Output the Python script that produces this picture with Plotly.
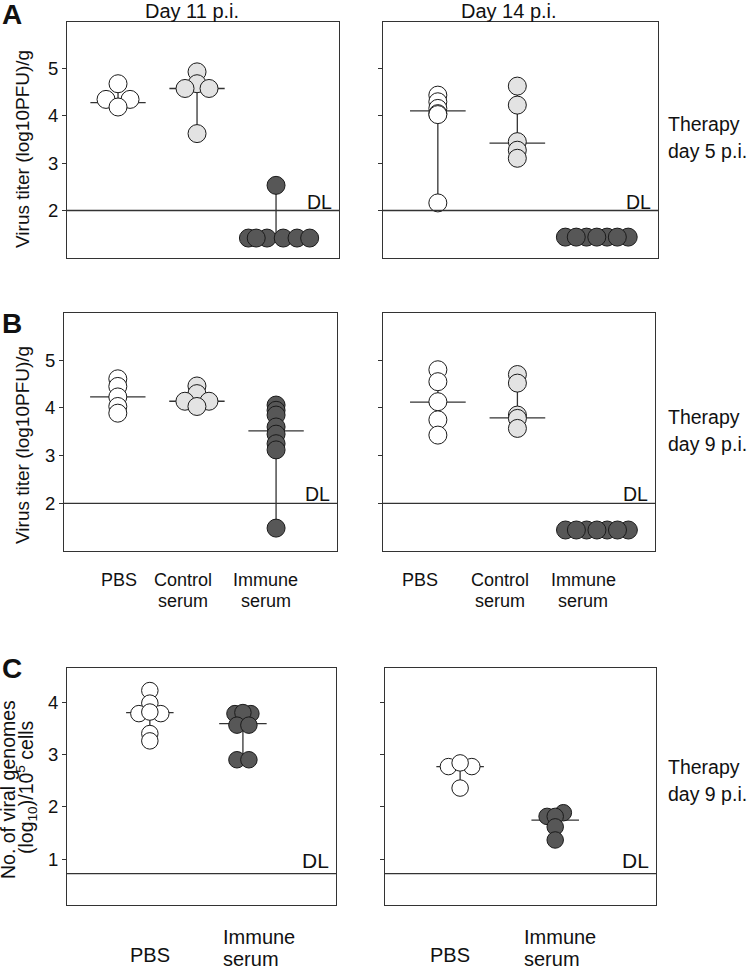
import plotly.graph_objects as go
import numpy as np

# ---------------- data ----------------
GROUPS_AB = ["PBS", "Control<br>serum", "Immune<br>serum"]
GROUPS_C = ["PBS", "Immune<br>serum"]
DL_TITER = 2.0
DL_GENOMES = 0.73

# Panel A, day 11 p.i. (therapy day 5)
A11_PBS = [4.67, 4.34, 4.34, 4.18]
A11_PBS_SLOT = [0, -1, 1, 0]
A11_CTRL = [4.92, 4.67, 4.57, 4.57, 3.62]
A11_CTRL_SLOT = [0, 0, -1, 1, 0]
A11_IMM = [2.53, 1.42, 1.42, 1.42, 1.42, 1.42, 1.42]
A11_IMM_SLOT = [0, -2.3, -0.75, -1.65, 0.6, 1.75, 2.8]
A11_MED = [4.27, 4.57, 1.42]

# Panel A, day 14 p.i.
A14_PBS = [4.43, 4.29, 4.15, 4.04, 4.02, 2.16]
A14_PBS_SLOT = [0, 0, 0, 0, 0, 0]
A14_CTRL = [4.62, 4.22, 3.45, 3.27, 3.10]
A14_CTRL_SLOT = [0, 0, 0, 0, 0]
A14_IMM = [1.44, 1.44, 1.44, 1.44, 1.44, 1.44, 1.44]
A14_IMM_SLOT = [-2.6, -0.85, 0.85, 2.6, -1.7, 0, 1.7]
A14_MED = [4.10, 3.42, 1.44]

# Panel B, day 11 p.i. (therapy day 9)
B11_PBS = [4.61, 4.45, 4.23, 4.03, 3.89]
B11_PBS_SLOT = [0, 0, 0, 0, 0]
B11_CTRL = [4.46, 4.30, 4.14, 4.14, 4.03]
B11_CTRL_SLOT = [0, 0, -1, 1, 0]
B11_IMM = [4.06, 3.95, 3.85, 3.60, 3.45, 3.25, 3.12, 1.48]
B11_IMM_SLOT = [0, 0, 0, 0, 0, 0, 0, 0]
B11_MED = [4.23, 4.14, 3.52]

# Panel B, day 14 p.i.
B14_PBS = [4.80, 4.55, 4.13, 3.75, 3.43]
B14_PBS_SLOT = [0, 0, 0, 0, 0]
B14_CTRL = [4.70, 4.52, 3.85, 3.78, 3.57]
B14_CTRL_SLOT = [0, 0, 0, 0, 0]
B14_IMM = [1.44, 1.44, 1.44, 1.44, 1.44, 1.44, 1.44]
B14_IMM_SLOT = [-2.6, -0.85, 0.85, 2.6, -1.7, 0, 1.7]
B14_MED = [4.12, 3.79, 1.44]

# Panel C, viral genomes, left / right
C_L_PBS = [4.22, 3.98, 3.78, 3.78, 3.81, 3.40, 3.26]
C_L_PBS_SLOT = [0, 0, -1.1, 1.1, 0, 0, 0]
C_L_IMM = [3.78, 3.78, 3.80, 3.56, 3.56, 2.90, 2.90]
C_L_IMM_SLOT = [-0.8, 0.8, 0, -0.6, 0.6, -0.6, 0.6]
C_L_MED = [3.80, 3.59]

C_R_PBS = [2.77, 2.77, 2.84, 2.36]
C_R_PBS_SLOT = [-1.15, 1.15, 0, 0]
C_R_IMM = [1.82, 1.89, 1.82, 1.62, 1.37]
C_R_IMM_SLOT = [-0.8, 0.8, 0, 0, 0]
C_R_MED = [2.77, 1.75]

# ---------------- styling ----------------
W, H = 750, 968
FONT = "Liberation Sans, Arial, sans-serif"
INK = "#333333"
FILLS_AB = ["#ffffff", "#e3e3e3", "#575757"]
FILLS_C = ["#ffffff", "#575757"]


def dx(p):
    return p / W


def dy(p):
    return 1 - p / H


panels = [
    dict(box=(67, 339, 22, 258), xr=[-0.646, 2.797], yr=[1.0, 5.97], ticks=[2, 3, 4, 5],
         labels=True, dl=DL_TITER, jit=0.152, half=0.35, fills=FILLS_AB, size=18,
         groups=[(A11_PBS, A11_PBS_SLOT), (A11_CTRL, A11_CTRL_SLOT), (A11_IMM, A11_IMM_SLOT)],
         med=A11_MED),
    dict(box=(383, 658, 22, 258), xr=[-0.69, 2.77], yr=[1.0, 5.97], ticks=[2, 3, 4, 5],
         labels=False, dl=DL_TITER, jit=0.152, half=0.35, fills=FILLS_AB, size=18,
         groups=[(A14_PBS, A14_PBS_SLOT), (A14_CTRL, A14_CTRL_SLOT), (A14_IMM, A14_IMM_SLOT)],
         med=A14_MED),
    dict(box=(64, 337, 313, 551), xr=[-0.68, 2.77], yr=[1.0, 5.99], ticks=[2, 3, 4, 5],
         labels=True, dl=DL_TITER, jit=0.152, half=0.35, fills=FILLS_AB, size=18,
         groups=[(B11_PBS, B11_PBS_SLOT), (B11_CTRL, B11_CTRL_SLOT), (B11_IMM, B11_IMM_SLOT)],
         med=B11_MED),
    dict(box=(383, 655, 313, 551), xr=[-0.69, 2.73], yr=[1.0, 5.99], ticks=[2, 3, 4, 5],
         labels=False, dl=DL_TITER, jit=0.152, half=0.35, fills=FILLS_AB, size=18,
         groups=[(B14_PBS, B14_PBS_SLOT), (B14_CTRL, B14_CTRL_SLOT), (B14_IMM, B14_IMM_SLOT)],
         med=B14_MED),
    dict(box=(67, 336, 668, 905), xr=[-0.89, 2.0], yr=[0.13, 4.65], ticks=[1, 2, 3, 4],
         labels=True, dl=DL_GENOMES, jit=0.107, half=0.255, fills=FILLS_C, size=16.5,
         groups=[(C_L_PBS, C_L_PBS_SLOT), (C_L_IMM, C_L_IMM_SLOT)],
         med=C_L_MED),
    dict(box=(385, 656, 668, 905), xr=[-0.79, 2.06], yr=[0.13, 4.65], ticks=[1, 2, 3, 4],
         labels=False, dl=DL_GENOMES, jit=0.107, half=0.25, fills=FILLS_C, size=16.5,
         groups=[(C_R_PBS, C_R_PBS_SLOT), (C_R_IMM, C_R_IMM_SLOT)],
         med=C_R_MED),
]

fig = go.Figure()
layout = dict(
    width=W, height=H, margin=dict(l=0, r=0, t=0, b=0),
    paper_bgcolor="white", plot_bgcolor="white", showlegend=False,
    font=dict(family=FONT, color="#111111"),
)
shapes = []
annotations = []

for i, p in enumerate(panels, start=1):
    xa = "x" if i == 1 else f"x{i}"
    ya = "y" if i == 1 else f"y{i}"
    x0, x1, y0, y1 = p["box"]
    layout["xaxis" if i == 1 else f"xaxis{i}"] = dict(
        domain=[dx(x0), dx(x1)], range=p["xr"], anchor=ya,
        showline=True, mirror=True, linecolor=INK, linewidth=1.2,
        showticklabels=False, ticks="", showgrid=False, zeroline=False, fixedrange=True,
    )
    layout["yaxis" if i == 1 else f"yaxis{i}"] = dict(
        domain=[dy(y1), dy(y0)], range=p["yr"], anchor=xa,
        showline=True, mirror=True, linecolor=INK, linewidth=1.2,
        tickvals=p["ticks"], ticktext=[str(t) for t in p["ticks"]],
        showticklabels=p["labels"], ticks="outside", ticklen=4, tickwidth=1, tickcolor=INK,
        tickfont=dict(size=18.5, family=FONT, color="#111111"),
        showgrid=False, zeroline=False, fixedrange=True,
    )
    # range (min-max) and median lines, drawn behind the points
    lx, ly = [], []
    for g, (vals, _slots) in enumerate(p["groups"]):
        lx += [g, g, None]
        ly += [min(vals), max(vals), None]
        lx += [g - p["half"], g + p["half"], None]
        ly += [p["med"][g], p["med"][g], None]
    fig.add_trace(go.Scatter(x=lx, y=ly, mode="lines", xaxis=xa, yaxis=ya,
                             line=dict(color=INK, width=1.3), hoverinfo="skip"))
    for g, (vals, slots) in enumerate(p["groups"]):
        xs = [g + s * p["jit"] for s in slots]
        fig.add_trace(go.Scatter(
            x=xs, y=vals, mode="markers", xaxis=xa, yaxis=ya,
            marker=dict(size=p["size"], color=p["fills"][g], line=dict(color="#1a1a1a", width=1)),
        ))
    # detection limit
    shapes.append(dict(type="line", xref=f"{xa} domain", yref=ya, x0=0, x1=1,
                       y0=p["dl"], y1=p["dl"], line=dict(color=INK, width=1.3)))
    annotations.append(dict(xref=f"{xa} domain", yref=ya, x=1, y=p["dl"], text="DL",
                            showarrow=False, xanchor="right", yanchor="bottom",
                            xshift=-5, yshift=-4 if i <= 4 else 0,
                            font=dict(size=19.5 if i <= 4 else 21, family=FONT)))


def txt(x, y, text, size=19, xanchor="center", angle=0, bold=False):
    annotations.append(dict(
        xref="paper", yref="paper", x=dx(x), y=dy(y), text=f"<b>{text}</b>" if bold else text,
        showarrow=False, xanchor=xanchor, yanchor="middle", textangle=angle,
        font=dict(size=size, family=FONT, color="#111111"), align="left",
    ))


# panel letters
txt(0, 15, "A", 28, xanchor="left", bold=True)
txt(0, 323, "B", 28, xanchor="left", bold=True)
txt(0, 668, "C", 28, xanchor="left", bold=True)

# column headings
txt(192, 11, "Day 11 p.i.", 20)
txt(509, 11, "Day 14 p.i.", 20)

# y titles
txt(22, 149, "Virus titer (log10PFU)/g", 19, angle=-90)
txt(22, 445, "Virus titer (log10PFU)/g", 19, angle=-90)
txt(8, 790, "No. of viral genomes", 19.5, angle=-90)
txt(26, 787, "(log<sub>10</sub>)/10<sup>5</sup> cells", 19.5, angle=-90)

# therapy notes
for yc, day in [(137, 5), (430, 9), (780, 9)]:
    txt(666, yc - 13, "Therapy", 19.5, xanchor="left")
    txt(666, yc + 14, f"day {day} p.i.", 19.5, xanchor="left")

# group labels, panel B
for xs in [(118.5, 183, 265.5), (420, 500, 583)]:
    for xc, lab in zip(xs, GROUPS_AB):
        lines = lab.split("<br>")
        txt(xc, 580, lines[0], 18)
        if len(lines) > 1:
            txt(xc, 601, lines[1], 18)

# group labels, panel C
for xp, xi in [(150, 221), (450, 522)]:
    txt(xp, 955, GROUPS_C[0], 20)
    lines = GROUPS_C[1].split("<br>")
    txt(xi, 937, lines[0], 20, xanchor="left")
    txt(xi, 959, lines[1], 20, xanchor="left")

layout["shapes"] = shapes
layout["annotations"] = annotations
fig.update_layout(**layout)
fig.write_html(
    "out.html",
    config={"displayModeBar": False},
    post_script="document.body.style.margin='0';document.body.style.overflow='hidden';",
)
